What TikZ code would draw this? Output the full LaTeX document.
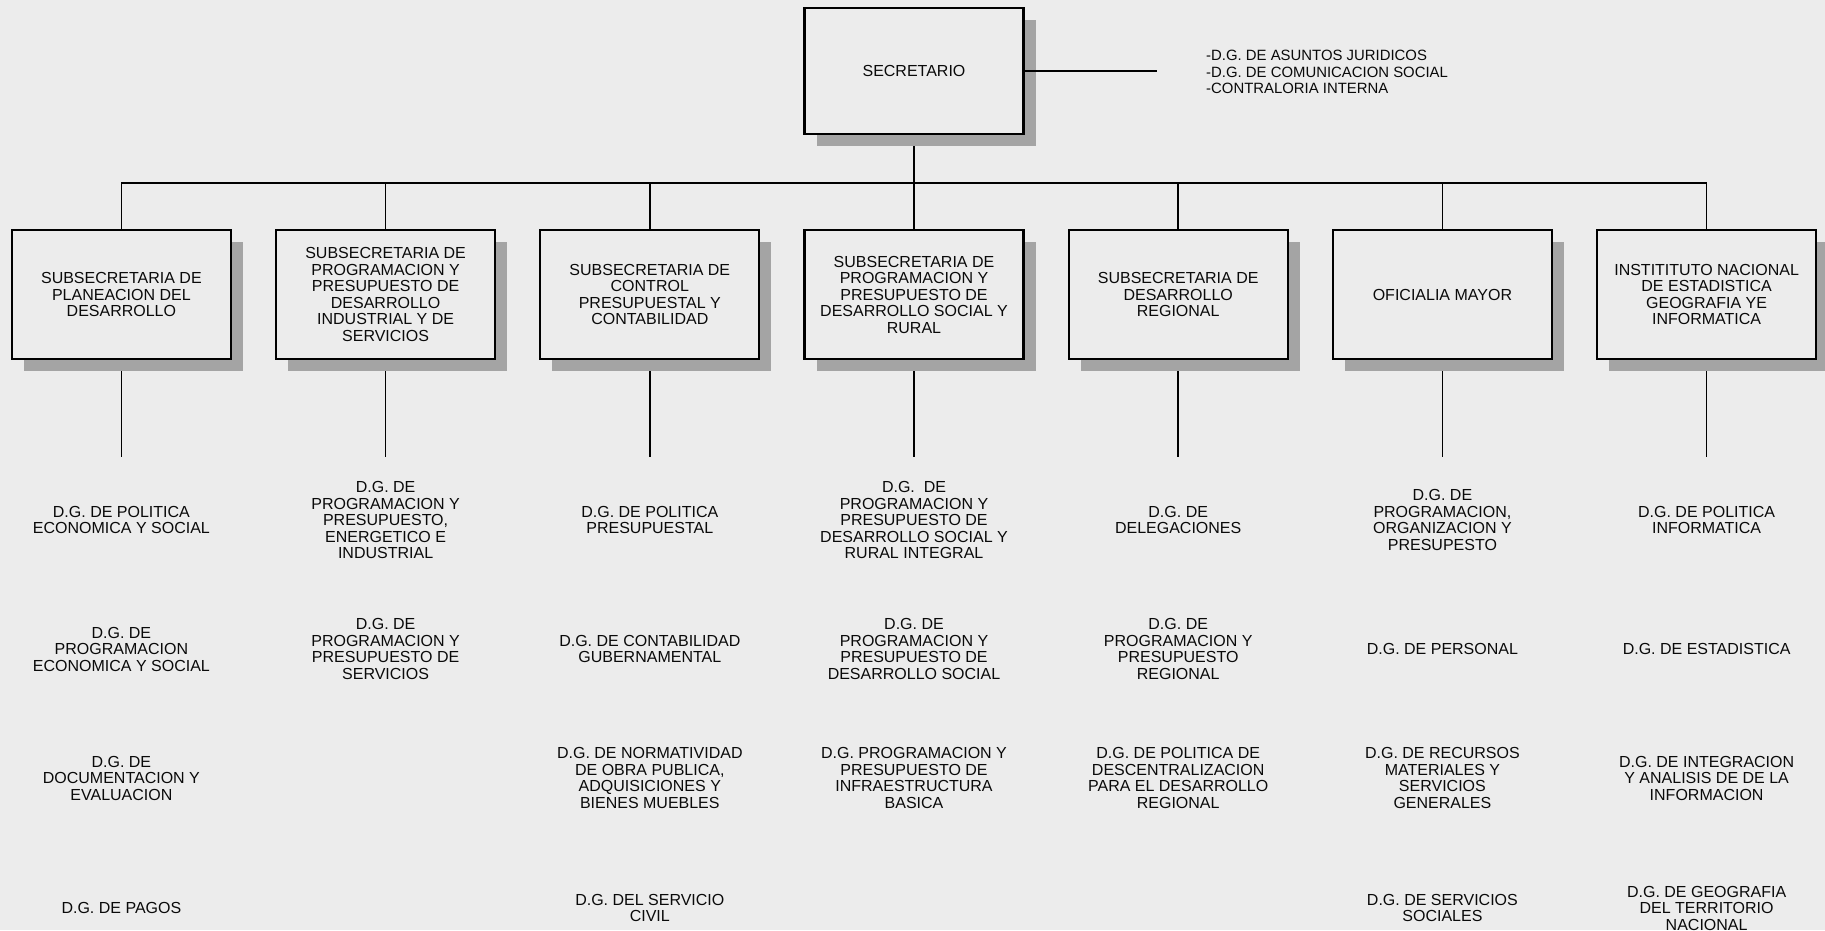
\documentclass[tikz,border=0pt]{standalone}
\usepackage{fontspec}
\setmainfont{Liberation Sans}
\usetikzlibrary{positioning}
\usetikzlibrary{shadows}
\definecolor{paper}{RGB}{236,236,236}
\definecolor{shade}{RGB}{164,164,164}
\definecolor{ink}{RGB}{10,10,10}
\pgfdeclarelayer{back}
\pgfsetlayers{back,main}
\tikzset{
sub/.style={
  rectangle,
  draw=black,
  line width=2.2pt,
  outer sep=0pt,
  fill=paper,
  text=ink,
  inner sep=2pt,
  minimum width=219pt,
  minimum height=129pt,
  align=center,
  font=\fontsize{16}{16.5}\selectfont,
  drop shadow={shadow xshift=12pt,shadow yshift=-12pt,fill=shade,opacity=1}
  },
dg/.style={
  text=ink,
  align=center,
  inner sep=0pt,
  font=\fontsize{16}{16.5}\selectfont
  },
conn/.style={draw=black,line width=1.6pt}
}

\begin{document}
\begin{tikzpicture}[x=1pt,y=-1pt,node distance=96pt and 45.2pt]
            \useasboundingbox (0,0) rectangle (1825,930);
            % rows
            \coordinate (bus) at (0,183);
            \coordinate (drop) at (0,457);
            \coordinate (r1) at (0,520);
            \coordinate (r2) at (0,649);
            \coordinate (r3) at (0,778);
            \coordinate (r4) at (0,908);
            \coordinate (staffend) at (1157,71);
            % top
            \node[sub, minimum height=126pt] (sec) at (914,71) {SECRETARIO};
            \node[dg, anchor=west, align=left, font=\fontsize{14.9}{16.7}\selectfont] (staff) at (1206,72) {-D.G. DE ASUNTOS JURIDICOS\\-D.G. DE COMUNICACION SOCIAL\\-CONTRALORIA INTERNA};
            % subsecretarias
            \node[sub] (s4) [below=of sec] {SUBSECRETARIA DE\\PROGRAMACION Y\\PRESUPUESTO DE\\DESARROLLO SOCIAL Y\\RURAL};
            \node[sub] (s3) [left=of s4] {SUBSECRETARIA DE\\CONTROL\\PRESUPUESTAL Y\\CONTABILIDAD};
            \node[sub] (s2) [left=of s3] {SUBSECRETARIA DE\\PROGRAMACION Y\\PRESUPUESTO DE\\DESARROLLO\\INDUSTRIAL Y DE\\SERVICIOS};
            \node[sub] (s1) [left=of s2] {SUBSECRETARIA DE\\PLANEACION DEL\\DESARROLLO};
            \node[sub] (s5) [right=of s4] {SUBSECRETARIA DE\\DESARROLLO\\REGIONAL};
            \node[sub] (s6) [right=of s5] {OFICIALIA MAYOR};
            \node[sub] (s7) [right=of s6] {INSTITITUTO NACIONAL\\DE ESTADISTICA\\GEOGRAFIA YE\\INFORMATICA};
            % direcciones generales
            \node[dg] (d11) at (s1 |- r1) {D.G. DE POLITICA\\ECONOMICA Y SOCIAL};
            \node[dg] (d12) at (s1 |- r2) {D.G. DE\\PROGRAMACION\\ECONOMICA Y SOCIAL};
            \node[dg] (d13) at (s1 |- r3) {D.G. DE\\DOCUMENTACION Y\\EVALUACION};
            \node[dg] (d14) at (s1 |- r4) {D.G. DE PAGOS};
            \node[dg] (d21) at (s2 |- r1) {D.G. DE\\PROGRAMACION Y\\PRESUPUESTO,\\ENERGETICO E\\INDUSTRIAL};
            \node[dg] (d22) at (s2 |- r2) {D.G. DE\\PROGRAMACION Y\\PRESUPUESTO DE\\SERVICIOS};
            \node[dg] (d31) at (s3 |- r1) {D.G. DE POLITICA\\PRESUPUESTAL};
            \node[dg] (d32) at (s3 |- r2) {D.G. DE CONTABILIDAD\\GUBERNAMENTAL};
            \node[dg] (d33) at (s3 |- r3) {D.G. DE NORMATIVIDAD\\DE OBRA PUBLICA,\\ADQUISICIONES Y\\BIENES MUEBLES};
            \node[dg] (d34) at (s3 |- r4) {D.G. DEL SERVICIO\\CIVIL};
            \node[dg] (d41) at (s4 |- r1) {D.G.\ \ DE\\PROGRAMACION Y\\PRESUPUESTO DE\\DESARROLLO SOCIAL Y\\RURAL INTEGRAL};
            \node[dg] (d42) at (s4 |- r2) {D.G. DE\\PROGRAMACION Y\\PRESUPUESTO DE\\DESARROLLO SOCIAL};
            \node[dg] (d43) at (s4 |- r3) {D.G. PROGRAMACION Y\\PRESUPUESTO DE\\INFRAESTRUCTURA\\BASICA};
            \node[dg] (d51) at (s5 |- r1) {D.G. DE\\DELEGACIONES};
            \node[dg] (d52) at (s5 |- r2) {D.G. DE\\PROGRAMACION Y\\PRESUPUESTO\\REGIONAL};
            \node[dg] (d53) at (s5 |- r3) {D.G. DE POLITICA DE\\DESCENTRALIZACION\\PARA EL DESARROLLO\\REGIONAL};
            \node[dg] (d61) at (s6 |- r1) {D.G. DE\\PROGRAMACION,\\ORGANIZACION Y\\PRESUPESTO};
            \node[dg] (d62) at (s6 |- r2) {D.G. DE PERSONAL};
            \node[dg] (d63) at (s6 |- r3) {D.G. DE RECURSOS\\MATERIALES Y\\SERVICIOS\\GENERALES};
            \node[dg] (d64) at (s6 |- r4) {D.G. DE SERVICIOS\\SOCIALES};
            \node[dg] (d71) at (s7 |- r1) {D.G. DE POLITICA\\INFORMATICA};
            \node[dg] (d72) at (s7 |- r2) {D.G. DE ESTADISTICA};
            \node[dg] (d73) at (s7 |- r3) {D.G. DE INTEGRACION\\Y ANALISIS DE DE LA\\INFORMACION};
            \node[dg] (d74) at (s7 |- r4) {D.G. DE GEOGRAFIA\\DEL TERRITORIO\\NACIONAL};
            \draw[conn] (sec.east) -- (staffend);
            \begin{pgfonlayer}{back}
            \fill[paper] (0,0) rectangle (1825,930);
            \path[conn]
            (sec) edge (sec |- bus)
            (s1.north |- bus) edge (s7.north |- bus)
            (s1) edge (s1 |- bus)
            (s2) edge (s2 |- bus)
            (s3) edge (s3 |- bus)
            (s4) edge (s4 |- bus)
            (s5) edge (s5 |- bus)
            (s6) edge (s6 |- bus)
            (s7) edge (s7 |- bus)
            (s1) edge (s1 |- drop)
            (s2) edge (s2 |- drop)
            (s3) edge (s3 |- drop)
            (s4) edge (s4 |- drop)
            (s5) edge (s5 |- drop)
            (s6) edge (s6 |- drop)
            (s7) edge (s7 |- drop)
            ;
            \end{pgfonlayer}
        \end{tikzpicture}
\end{document}
